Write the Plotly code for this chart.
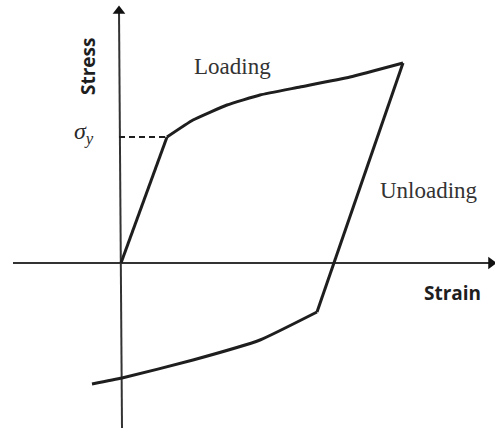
import plotly.graph_objects as go

# Stress-strain cycle (arbitrary units): elastic loading, hardening, unloading, reverse yielding
elastic_strain = [0.00, 0.46]
elastic_stress = [0.00, 1.26]

harden_strain = [0.46, 0.72, 1.06, 1.39, 1.79, 2.29, 2.82]
harden_stress = [1.26, 1.43, 1.58, 1.68, 1.76, 1.86, 2.00]

unload_strain = [2.82, 1.96]
unload_stress = [2.00, -0.49]

reverse_strain = [1.96, 1.39, 0.72, 0.01, -0.29]
reverse_stress = [-0.49, -0.77, -0.97, -1.15, -1.21]

yield_strain = 0.46
yield_stress = 1.26

# Axis extents
x_axis_from, x_axis_to = -1.08, 3.70
y_axis_from, y_axis_to = -1.65, 2.52

X_RANGE = [-1.21, 3.74]
Y_RANGE = [-1.67, 2.63]

curve_color = "#1e1e1e"
axis_color = "#333333"

fig = go.Figure()

# Coordinate axes
fig.add_trace(go.Scatter(x=[x_axis_from, x_axis_to], y=[0, 0], mode="lines",
                         line=dict(color=axis_color, width=2), hoverinfo="skip"))
fig.add_trace(go.Scatter(x=[-0.02, 0.01], y=[y_axis_to, y_axis_from], mode="lines",
                         line=dict(color=axis_color, width=2), hoverinfo="skip"))
# Arrow heads
fig.add_trace(go.Scatter(x=[x_axis_to], y=[0], mode="markers",
                         marker=dict(symbol="triangle-right", size=11, color="#111111",
                                     line=dict(width=0)), hoverinfo="skip"))
fig.add_trace(go.Scatter(x=[-0.02], y=[y_axis_to], mode="markers",
                         marker=dict(symbol="triangle-up", size=11, color="#111111",
                                     line=dict(width=0)), hoverinfo="skip"))

# Dashed guide at yield stress
fig.add_trace(go.Scatter(x=[-0.02, yield_strain], y=[yield_stress, yield_stress], mode="lines",
                         line=dict(color=curve_color, width=1.8, dash="6px,4px"), hoverinfo="skip"))

# Straight branches
for xs, ys in [(elastic_strain, elastic_stress), (unload_strain, unload_stress)]:
    fig.add_trace(go.Scatter(x=xs, y=ys, mode="lines",
                             line=dict(color=curve_color, width=3), hoverinfo="skip"))
# Curved (plastic) branches
for xs, ys in [(harden_strain, harden_stress), (reverse_strain, reverse_stress)]:
    fig.add_trace(go.Scatter(x=xs, y=ys, mode="lines",
                             line=dict(color=curve_color, width=3, shape="spline", smoothing=0.4),
                             hoverinfo="skip"))

serif = "Liberation Serif, Times New Roman, serif"
sans = "Open Sans, Arial, sans-serif"

annotations = [
    dict(x=1.11, y=1.97, text="Loading", font=dict(family=serif, size=23, color="#333333")),
    dict(x=3.08, y=0.73, text="Unloading", font=dict(family=serif, size=23, color="#333333")),
    dict(x=-0.37, y=1.30, text="<i>σ<sub>y</sub></i>", font=dict(family=serif, size=24, color="#2a2a2a")),
    dict(x=3.31, y=-0.30, text="<b>Strain</b>", font=dict(family=sans, size=19, color="#1e1e1e")),
    dict(x=-0.33, y=1.96, text="<b>Stress</b>", textangle=-90,
         font=dict(family=sans, size=19, color="#1e1e1e")),
]
for a in annotations:
    a.update(xref="x", yref="y", showarrow=False)

fig.update_layout(
    width=495, height=430, margin=dict(l=0, r=0, t=0, b=0),
    paper_bgcolor="white", plot_bgcolor="white", showlegend=False,
    xaxis=dict(range=X_RANGE, visible=False, fixedrange=True),
    yaxis=dict(range=Y_RANGE, visible=False, fixedrange=True),
    annotations=annotations,
)

fig.write_html("out.html")
